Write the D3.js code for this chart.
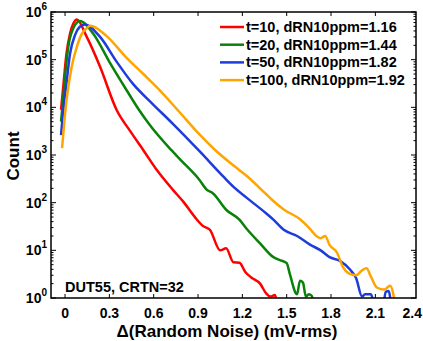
<!DOCTYPE html>
<html>
<head>
<meta charset="utf-8">
<script src="https://cdn.jsdelivr.net/npm/d3@7"></script>
<style>
  body { margin: 0; background: #fff; }
  text { font-family: "Liberation Sans", Arial, sans-serif; font-weight: bold; fill: #000; }
</style>
</head>
<body>
<svg id="chart" width="423" height="341"></svg>
<script>
// x = delta random noise (mV-rms), y = count
const seriesNames = ['t=10, dRN10ppm=1.16', 't=20, dRN10ppm=1.44', 't=50, dRN10ppm=1.82', 't=100, dRN10ppm=1.92'];
const seriesColors = ['#ff0000', '#0a820a', '#1e3cdc', '#ffa500'];

const t10 = [[-0.027, 8900], [-0.01, 32000], [0.01, 135000], [0.034, 355000], [0.056, 575000], [0.08, 700000],
  [0.147, 300000], [0.237, 71000], [0.35, 8700], [0.44, 3200], [0.53, 1260], [0.62, 490], [0.73, 186], [0.80, 105],
  [0.89, 45], [0.93, 33], [0.98, 27], [1.05, 10], [1.09, 11], [1.14, 5.6], [1.18, 5.5], [1.22, 3.5], [1.26, 2.7],
  [1.32, 2], [1.36, 1.26], [1.39, 1.07], [1.42, 1.15], [1.44, 0.5]];
const t20 = [[-0.027, 5000], [-0.012, 16000], [0.0, 44000], [0.022, 186000], [0.056, 457000], [0.08, 600000], [0.10, 645000],
  [0.19, 355000], [0.30, 90000], [0.42, 22000], [0.50, 8900], [0.575, 4200], [0.72, 1260], [0.78, 800], [0.91, 300], [0.96, 186],
  [1.0, 158], [1.09, 71], [1.18, 44], [1.23, 28], [1.32, 14], [1.41, 7.2], [1.45, 6.3], [1.50, 5.4], [1.52, 3.3],
  [1.57, 1.2], [1.59, 2.3], [1.61, 2.1], [1.63, 1.07], [1.65, 1.2], [1.67, 1.1], [1.69, 0.5]];
const t50 = [[-0.027, 2600], [-0.01, 10000], [0.007, 27000], [0.034, 135000], [0.068, 331000], [0.10, 490000], [0.135, 550000],
  [0.237, 300000], [0.35, 90000], [0.46, 31000], [0.59, 12000], [0.73, 4500], [0.91, 1200], [1.07, 355], [1.14, 214],
  [1.23, 126], [1.36, 60], [1.41, 44], [1.48, 27], [1.57, 20], [1.66, 13], [1.73, 10], [1.79, 7.2], [1.86, 6],
  [1.93, 3.9], [1.97, 2.6], [2.01, 1.07], [2.03, 1.2], [2.07, 1.2], [2.10, 0.6], [2.15, 0.6], [2.17, 1.35], [2.19, 1.4],
  [2.21, 0.5]];
const t100 = [[-0.02, 1400], [-0.005, 5000], [0.01, 14000], [0.045, 71000], [0.08, 186000], [0.11, 331000], [0.147, 457000],
  [0.17, 513000], [0.28, 316000], [0.41, 115000], [0.53, 50000], [0.64, 23000], [0.78, 7600], [0.91, 2700],
  [1.01, 1320], [1.14, 600], [1.23, 363], [1.32, 200], [1.40, 115], [1.48, 72], [1.59, 45], [1.65, 30], [1.70, 20],
  [1.73, 18], [1.76, 20], [1.79, 13], [1.84, 9], [1.88, 4.5], [1.92, 3.3], [1.97, 3], [2.01, 3.8], [2.04, 4.2],
  [2.07, 2.8], [2.11, 1.66], [2.16, 1.5], [2.20, 1.8], [2.22, 1.26], [2.24, 0.5]];
const seriesData = [t10, t20, t50, t100];

const xTicks = [0, 0.3, 0.6, 0.9, 1.2, 1.5, 1.8, 2.1, 2.4];
const yTicks = [1, 10, 100, 1000, 10000, 100000, 1000000];

const margin = { top: 12, right: 7, bottom: 43, left: 51 };
const width = 423, height = 341;
const svg = d3.select('#chart');

const x = d3.scaleLinear().domain([-0.095, 2.375]).range([margin.left, width - margin.right]);
const y = d3.scaleLog().domain([1, 1e6]).range([height - margin.bottom, margin.top]);

svg.append('defs').append('clipPath').attr('id', 'plot')
  .append('rect')
  .attr('x', margin.left).attr('y', margin.top)
  .attr('width', width - margin.left - margin.right)
  .attr('height', height - margin.top - margin.bottom);

const line = d3.line().curve(d3.curveMonotoneX).x(d => x(d[0])).y(d => y(d[1]));
const curves = svg.append('g').attr('clip-path', 'url(#plot)');
seriesData.forEach((s, i) => {
  curves.append('path')
    .attr('d', line(s))
    .attr('fill', 'none')
    .attr('stroke', seriesColors[i])
    .attr('stroke-width', 2.5)
    .attr('stroke-linejoin', 'round');
});

// frame
const x0 = margin.left, x1 = width - margin.right, y0 = margin.top, y1 = height - margin.bottom;
svg.append('rect')
  .attr('x', x0).attr('y', y0).attr('width', x1 - x0).attr('height', y1 - y0)
  .attr('fill', 'none').attr('stroke', '#000').attr('stroke-width', 1.5);

// x ticks (inside, bottom and top)
const xIn = xTicks.filter(v => x(v) <= x1);
const tk = svg.append('g').attr('stroke', '#000').attr('stroke-width', 1);
xIn.forEach(v => {
  tk.append('line').attr('x1', x(v)).attr('x2', x(v)).attr('y1', y1).attr('y2', y1 - 4);
  tk.append('line').attr('x1', x(v)).attr('x2', x(v)).attr('y1', y0).attr('y2', y0 + 4);
});
svg.append('g').selectAll('text').data(xTicks).join('text')
  .attr('x', d => x(d) > x1 ? width - 1 : x(d)).attr('y', y1 + 20)
  .attr('text-anchor', d => x(d) > x1 ? 'end' : 'middle').attr('font-size', 14)
  .text(d => d === 0 ? '0' : d3.format('.1f')(d));

// y ticks, major and minor
const minor = [];
for (let e = 0; e < 6; e++) for (let k = 2; k <= 9; k++) minor.push(k * Math.pow(10, e));
yTicks.forEach(v => {
  tk.append('line').attr('x1', x0).attr('x2', x0 + 5).attr('y1', y(v)).attr('y2', y(v));
  tk.append('line').attr('x1', x1).attr('x2', x1 - 5).attr('y1', y(v)).attr('y2', y(v));
});
minor.forEach(v => {
  tk.append('line').attr('x1', x0).attr('x2', x0 + 2.5).attr('y1', y(v)).attr('y2', y(v));
  tk.append('line').attr('x1', x1).attr('x2', x1 - 2.5).attr('y1', y(v)).attr('y2', y(v));
});
const yl = svg.append('g').selectAll('text').data(yTicks).join('text')
  .attr('x', x0 - 4).attr('y', d => y(d) + 5)
  .attr('text-anchor', 'end').attr('font-size', 14);
yl.append('tspan').text('10');
yl.append('tspan').attr('font-size', 10).attr('dy', -7).text(d => Math.round(Math.log10(d)));

// axis titles
svg.append('text').attr('x', 227).attr('y', 337)
  .attr('text-anchor', 'middle').attr('font-size', 17)
  .text('Δ(Random Noise) (mV-rms)');
svg.append('text').attr('transform', `translate(19,156) rotate(-90)`)
  .attr('text-anchor', 'middle').attr('font-size', 17)
  .text('Count');

// annotation
svg.append('text').attr('x', x(0)).attr('y', y1 - 6).attr('font-size', 14.5).text('DUT55, CRTN=32');

// legend
const lg = svg.append('g');
seriesNames.forEach((n, i) => {
  const ly = 27 + i * 17.7;
  lg.append('line').attr('x1', 220).attr('x2', 244).attr('y1', ly).attr('y2', ly)
    .attr('stroke', seriesColors[i]).attr('stroke-width', 2.5);
  lg.append('text').attr('x', 246).attr('y', ly + 5).attr('font-size', 14.5).text(n);
});
</script>
</body>
</html>
